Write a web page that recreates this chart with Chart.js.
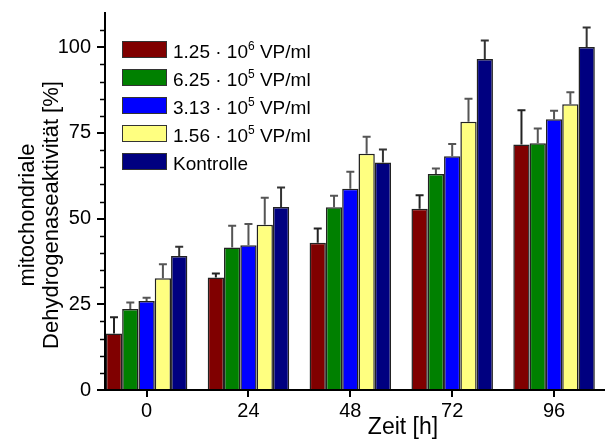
<!DOCTYPE html>
<html>
<head>
<meta charset="utf-8">
<script src="https://cdn.jsdelivr.net/npm/chart.js@4"></script>
<style>
  html, body { margin: 0; padding: 0; background: #fff; }
  #wrap { width: 605px; height: 441px; }
</style>
</head>
<body>
<div id="wrap"><canvas id="mdhChart" width="605" height="441"></canvas></div>
<script>
    const hours = [0, 24, 48, 72, 96];
    const yTickLabels = [0, 25, 50, 75, 100];
    const seriesLabels = ['1.25 · 10^6 VP/ml', '6.25 · 10^5 VP/ml', '3.13 · 10^5 VP/ml', '1.56 · 10^5 VP/ml', 'Kontrolle'];

    // mean values [%]
    const vp125e6 = [16.5, 32.8, 43.0, 52.9, 71.6];
    const vp625e5 = [23.6, 41.6, 53.3, 63.0, 72.0];
    const vp313e5 = [26.0, 42.2, 58.7, 68.2, 79.0];
    const vp156e5 = [32.6, 48.2, 68.9, 78.3, 83.4];
    const kontrolle = [39.1, 53.4, 66.4, 96.6, 100.1];

    // upper whisker (SD)
    const err125e6 = [4.7, 1.2, 4.1, 3.9, 10.0];
    const err625e5 = [1.9, 6.3, 3.4, 1.6, 4.3];
    const err313e5 = [0.9, 6.2, 5.0, 3.6, 2.5];
    const err156e5 = [4.1, 7.9, 5.0, 6.7, 3.5];
    const errKontrolle = [2.7, 5.7, 3.8, 5.4, 5.7];

    const seriesValues = [vp125e6, vp625e5, vp313e5, vp156e5, kontrolle];
    const seriesErrors = [err125e6, err625e5, err313e5, err156e5, errKontrolle];
    const barColors = ['#800000', '#008000', '#0000ff', '#ffff80', '#000080'];
    const whiskerColors = ['#222', '#555', '#555', '#555', '#333'];

    const FONT = "'Liberation Sans', Arial, sans-serif";
    const ctx = document.getElementById('mdhChart').getContext('2d');

    const errorBars = {
      id: 'errorBars',
      afterDatasetsDraw(chart) {
        const c = chart.ctx;
        const yScale = chart.scales.y;
        c.save();
        c.lineWidth = 2;
        chart.data.datasets.forEach((ds, i) => {
          const meta = chart.getDatasetMeta(i);
          c.strokeStyle = whiskerColors[i];
          meta.data.forEach((bar, j) => {
            const top = yScale.getPixelForValue(seriesValues[i][j] + seriesErrors[i][j]);
            c.beginPath();
            c.moveTo(bar.x, bar.y);
            c.lineTo(bar.x, top);
            c.moveTo(bar.x - 4, top);
            c.lineTo(bar.x + 4, top);
            c.stroke();
          });
        });
        c.restore();
      }
    };

    // minor y ticks every 5 %, shorter than the labelled ones
    const minorTicks = {
      id: 'minorTicks',
      afterDraw(chart) {
        const c = chart.ctx;
        const y = chart.scales.y;
        c.save();
        c.strokeStyle = '#000';
        c.lineWidth = 1.5;
        y.ticks.forEach(t => {
          if (t.value % 25 === 0) return;
          const py = Math.round(y.getPixelForValue(t.value)) + 0.5;
          c.beginPath();
          c.moveTo(y.right - 5, py);
          c.lineTo(y.right, py);
          c.stroke();
        });
        c.restore();
      }
    };

    // legend inside the plot, with superscript exponents
    const innerLegend = {
      id: 'innerLegend',
      afterDraw(chart) {
        const c = chart.ctx;
        c.save();
        chart.data.datasets.forEach((ds, i) => {
          const top = 41 + i * 28;
          c.fillStyle = ds.backgroundColor;
          c.fillRect(122, top, 45, 17);
          c.strokeStyle = '#333';
          c.lineWidth = 1;
          c.strokeRect(122.5, top + 0.5, 44, 16);

          const [base, rest] = ds.label.split('^');
          let x = 173;
          const baseLine = top + 16.5;
          c.fillStyle = '#000';
          c.textBaseline = 'alphabetic';
          c.font = '19px ' + FONT;
          c.fillText(base, x, baseLine);
          if (rest !== undefined) {
            x += c.measureText(base).width;
            const exp = rest.charAt(0);
            c.font = '12px ' + FONT;
            c.fillText(exp, x, baseLine - 8);
            x += c.measureText(exp).width;
            c.font = '19px ' + FONT;
            c.fillText(rest.slice(1), x, baseLine);
          }
        });
        c.restore();
      }
    };

    const axisTitles = {
      id: 'axisTitles',
      afterDraw(chart) {
        const c = chart.ctx;
        c.save();
        c.fillStyle = '#000';
        c.textAlign = 'center';
        c.textBaseline = 'alphabetic';
        c.font = '23px ' + FONT;
        c.fillText('Zeit [h]', 403, 434);
        c.translate(0, 215);
        c.rotate(-Math.PI / 2);
        c.font = '22px ' + FONT;
        c.fillText('mitochondriale', 0, 34);
        c.fillText('Dehydrogenaseaktivität [%]', 0, 58);
        c.restore();
      }
    };

    new Chart(ctx, {
      type: 'bar',
      data: {
        datasets: seriesValues.map((vals, i) => ({
          label: seriesLabels[i],
          data: hours.map((h, j) => ({ x: h, y: vals[j] })),
          backgroundColor: barColors[i],
          borderColor: '#222',
          borderWidth: 1.5,
          categoryPercentage: 0.8,
          barPercentage: 1.0
        }))
      },
      options: {
        responsive: false,
        animation: false,
        layout: { padding: { top: 13, left: 0, right: 0, bottom: 0 } },
        plugins: {
          legend: { display: false },
          tooltip: { enabled: false }
        },
        scales: {
          x: {
            type: 'linear',
            min: -9.8,
            max: 108,
            offset: false,
            afterBuildTicks: s => { s.ticks = hours.map(v => ({ value: v })); },
            afterFit: s => { s.height = 51; s.paddingLeft = 0; s.paddingRight = 0; },
            border: { color: '#000', width: 2 },
            grid: { offset: false, drawOnChartArea: false, tickLength: 7, color: '#000', lineWidth: 2 },
            ticks: { color: '#000', font: { family: FONT, size: 20 }, padding: 2, maxRotation: 0, autoSkip: false }
          },
          y: {
            min: 0,
            max: 110,
            afterBuildTicks: s => {
              const t = [];
              for (let v = 0; v <= 105; v += 5) t.push({ value: v });
              s.ticks = t;
            },
            afterFit: s => { s.width = 105; s.paddingTop = 0; s.paddingBottom = 0; },
            border: { color: '#000', width: 2 },
            grid: {
              drawOnChartArea: false,
              tickLength: 8,
              lineWidth: 2,
              tickColor: c => (c.tick && yTickLabels.includes(c.tick.value)) ? '#000' : 'transparent'
            },
            ticks: {
              color: '#000',
              font: { family: FONT, size: 20 },
              padding: 6,
              autoSkip: false,
              callback: v => yTickLabels.includes(v) ? v : ''
            }
          }
        }
      },
      plugins: [errorBars, minorTicks, innerLegend, axisTitles]
    });
</script>
</body>
</html>
